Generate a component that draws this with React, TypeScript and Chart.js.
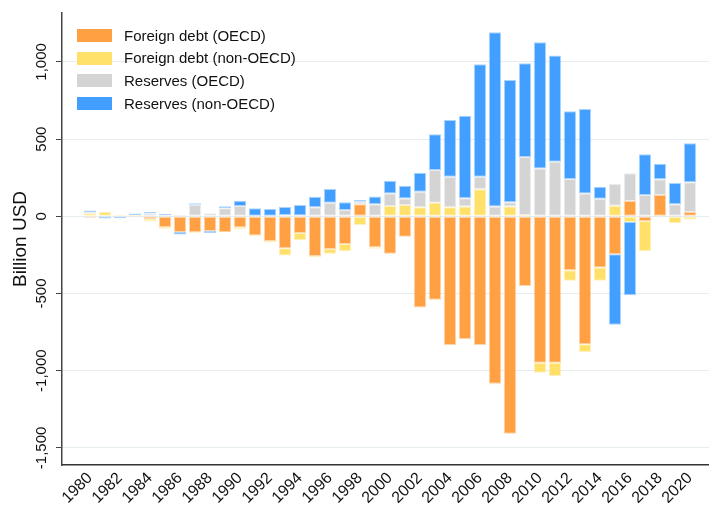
import React, { useEffect, useRef } from "react";
import { Chart, registerables } from "chart.js";

Chart.register(...registerables);

const years = [
  1980, 1981, 1982, 1983, 1984, 1985, 1986, 1987, 1988, 1989,
  1990, 1991, 1992, 1993, 1994, 1995, 1996, 1997, 1998, 1999,
  2000, 2001, 2002, 2003, 2004, 2005, 2006, 2007, 2008, 2009,
  2010, 2011, 2012, 2013, 2014, 2015, 2016, 2017, 2018, 2019, 2020,
];

const foreignDebtOECD = [
  -10, 0, 0, -5, -17, -69, -101, -104, -95, -104,
  -73, -125, -160, -207, -108, -257, -212, -179, 78, -201,
  -242, -132, -590, -540, -833, -794, -833, -1084, -1408, -451,
  -948, -948, -350, -829, -332, -246, 99, -30, 138, -5, 28,
];

const foreignDebtNonOECD = [
  20, 28, 8, 8, -15, -11, 0, -6, 0, 0,
  -11, -6, -9, -47, -47, -6, -30, -47, -56, -9,
  67, 73, 58, 88, 58, 63, 175, -6, 63, 9,
  -65, -86, -67, -50, -85, 69, -37, -194, -5, -40, -20,
];

const reservesOECD = [
  8, 0, 0, 0, 19, 9, 9, 75, 19, 52,
  67, 0, 0, 9, 6, 58, 88, 41, 17, 78,
  80, 43, 101, 212, 199, 54, 82, 63, 28, 375,
  309, 354, 242, 147, 114, 140, 180, 138, 102, 78, 192,
];

const reservesNonOECD = [
  10, -15, -13, 10, 9, 6, -17, 10, -13, 13,
  34, 52, 47, 52, 67, 69, 89, 50, 11, 50,
  84, 82, 123, 231, 367, 535, 728, 1129, 792, 607,
  818, 687, 438, 548, 78, -456, -475, 264, 101, 138, 253,
];

const seriesLabels = [
  "Foreign debt (OECD)",
  "Foreign debt (non-OECD)",
  "Reserves (OECD)",
  "Reserves (non-OECD)",
];

const yTickValues = [-1500, -1000, -500, 0, 500, 1000];
const xTickYears = [
  1980, 1982, 1984, 1986, 1988, 1990, 1992, 1994, 1996, 1998, 2000,
  2002, 2004, 2006, 2008, 2010, 2012, 2014, 2016, 2018, 2020,
];

const FILL = [
  "rgb(255,160,66)",
  "rgb(255,224,104)",
  "rgb(212,212,212)",
  "rgb(66,159,255)",
];
const EDGE = [
  "rgba(255,160,66,0.45)",
  "rgba(255,224,104,0.45)",
  "rgba(212,212,212,0.45)",
  "rgba(66,159,255,0.45)",
];

const FONT = "'Liberation Sans', Arial, sans-serif";

export default function App() {
  const ref = useRef<HTMLCanvasElement | null>(null);

  useEffect(() => {
    if (!ref.current) return;
    Chart.defaults.font.family = FONT;
    const series = [foreignDebtOECD, foreignDebtNonOECD, reservesOECD, reservesNonOECD];
    const datasets = series.map((arr, k) => ({
      label: seriesLabels[k],
      data: years.map((yr, i) => ({ x: yr, y: arr[i] })),
      backgroundColor: FILL[k],
      borderColor: EDGE[k],
      borderWidth: 1,
      borderSkipped: false as const,
      barPercentage: 0.82,
      categoryPercentage: 1,
    }));

    const chart = new Chart(ref.current, {
      type: "bar",
      data: { datasets },
      options: {
        responsive: false,
        animation: false,
        events: [],
        layout: { padding: { top: 13, left: 0, right: 0, bottom: 0 } },
        plugins: { legend: { display: false }, tooltip: { enabled: false } },
        scales: {
          x: {
            type: "linear",
            stacked: true,
            min: 1978.13,
            max: 2021.27,
            offset: false,
            grid: { display: false, drawTicks: false, offset: false },
            border: { display: true, color: "#333", width: 1.5 },
            ticks: {
              autoSkip: false,
              minRotation: 45,
              maxRotation: 45,
              padding: 10,
              color: "#111",
              font: { size: 16, lineHeight: 0.1 },
              callback: (v: any) => String(v),
            },
            afterBuildTicks: (s: any) => {
              s.ticks = xTickYears.map((v) => ({ value: v }));
            },
            afterFit: (s: any) => {
              s.height = 41;
              s.paddingLeft = 0;
              s.paddingRight = 0;
            },
          },
          y: {
            type: "linear",
            stacked: true,
            min: -1611,
            max: 1317,
            grid: {
              color: "rgb(229,237,239)",
              lineWidth: 1,
              drawTicks: true,
              tickLength: 6,
              tickColor: "#444",
            },
            border: { display: true, color: "#444", width: 1.5 },
            ticks: {
              autoSkip: false,
              minRotation: 90,
              maxRotation: 90,
              crossAlign: "center",
              padding: -7,
              color: "#111",
              font: { size: 15 },
              callback: (v: any) => Number(v).toLocaleString("en-US"),
            },
            afterBuildTicks: (s: any) => {
              s.ticks = yTickValues.map((v) => ({ value: v }));
            },
            title: {
              display: true,
              text: "Billion USD",
              color: "#111",
              font: { size: 19, lineHeight: 1.2 },
              padding: { top: 9, bottom: 0 },
            },
            afterFit: (s: any) => {
              s.width = 62;
            },
          },
        },
      },
    });
    return () => chart.destroy();
  }, []);

  const legendTops = [29, 51.7, 74.3, 97];

  return (
    <div style={{ position: "absolute", left: 0, top: 0, width: 709, height: 506, background: "#fff" }}>
      <canvas ref={ref} width={709} height={506} style={{ display: "block" }} />
      {seriesLabels.map((lab, k) => (
        <div key={lab}>
          <div
            style={{
              position: "absolute",
              left: 77,
              top: legendTops[k],
              width: 33,
              height: 11,
              background: FILL[k],
              border: `1px solid ${EDGE[k]}`,
            }}
          />
          <div
            style={{
              position: "absolute",
              left: 124,
              top: legendTops[k] + 6.5 - 10,
              height: 20,
              lineHeight: "20px",
              fontFamily: FONT,
              fontSize: 15,
              color: "#111",
              whiteSpace: "nowrap",
            }}
          >
            {lab}
          </div>
        </div>
      ))}
    </div>
  );
}
